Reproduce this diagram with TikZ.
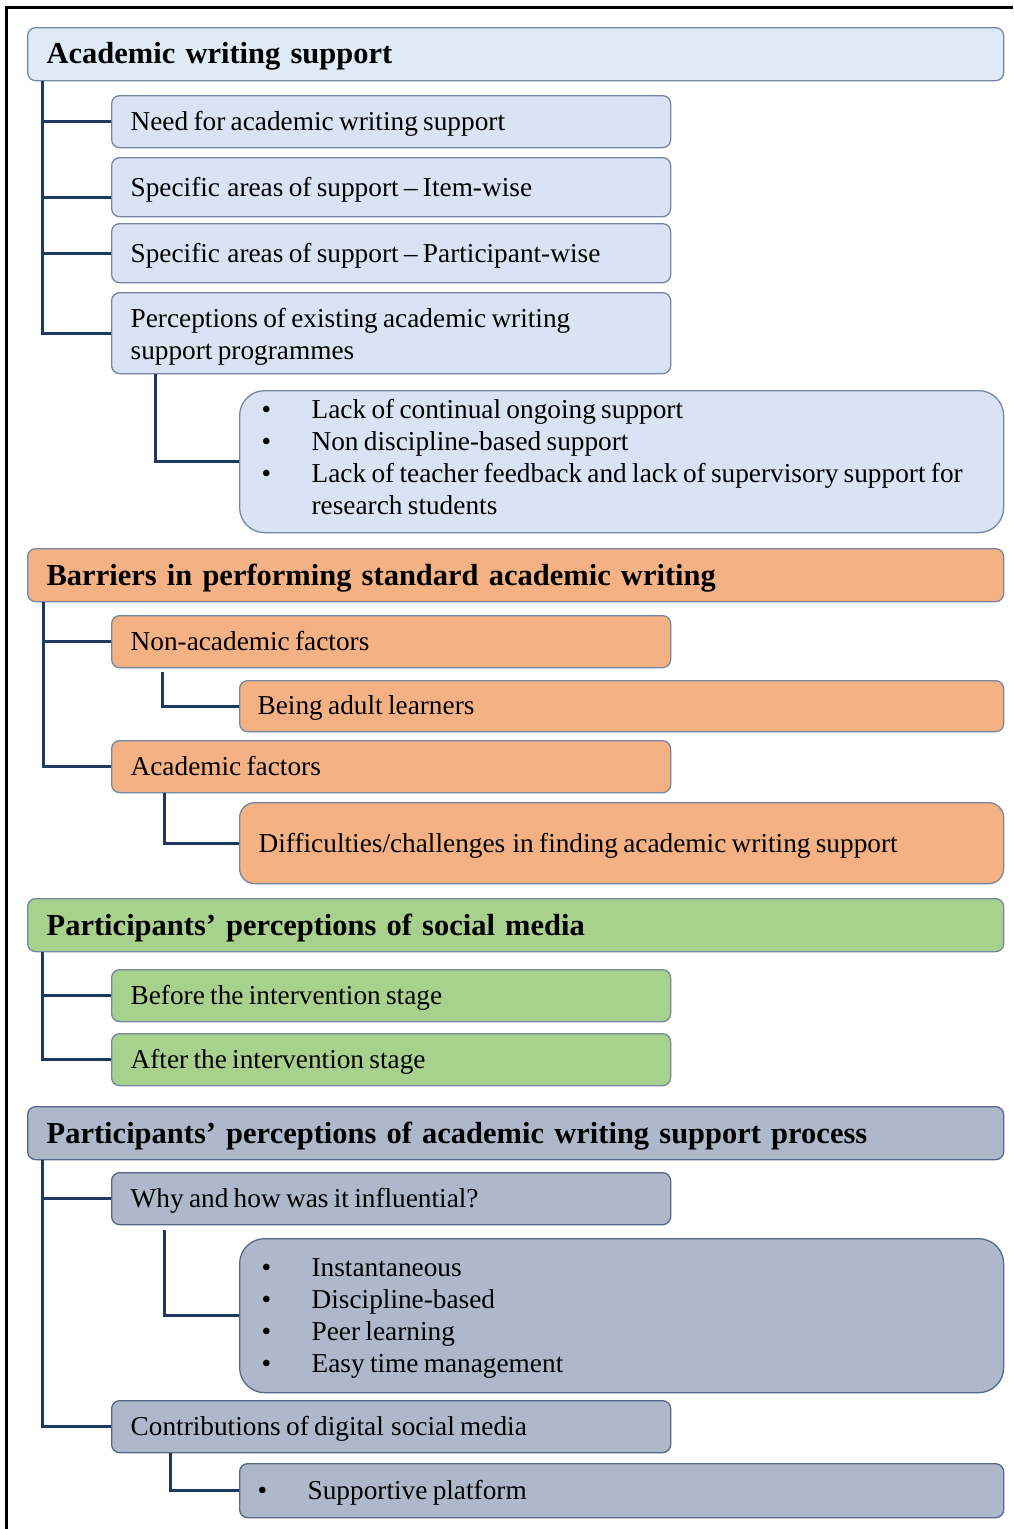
\documentclass[tikz,border=0pt]{standalone}
\usepackage{fontspec}
\setmainfont{Liberation Serif}
\definecolor{blueH}{HTML}{DEEBF7}
\definecolor{blueC}{HTML}{DAE3F3}
\definecolor{orangeF}{HTML}{F4B183}
\definecolor{greenF}{HTML}{A9D18E}
\definecolor{grayF}{HTML}{ADB9CA}
\definecolor{boxline}{HTML}{7586A3}
\definecolor{grayline}{HTML}{56688A}
\definecolor{connline}{HTML}{1F3864}
\newcommand{\bul}{\makebox[50pt][l]{\textbullet}}
\newcommand{\gap}{\hspace{2pt}}
\begin{document}
\begin{tikzpicture}[x=1pt,y=-1pt,
  base/.style={draw=boxline, line width=1.3pt, rounded corners=8pt, anchor=north west,
    inner xsep=19pt, inner ysep=0pt, align=left, text=black, text depth=1.5pt},
  body/.style={base, font=\fontsize{27.3}{32}\selectfont,
    execute at begin node={\spaceskip=5.3pt plus 2pt minus 1pt\relax}},
  multi/.style={text depth={}, text height=#1},
  hdr/.style={base, minimum width=976pt, text width=938pt, minimum height=53pt,
    font=\bfseries\fontsize{30.5}{36}\selectfont},
  child/.style={body, minimum width=559pt, text width=521pt},
  wide/.style={body, minimum width=764pt},
  conn/.style={draw=connline, line width=3pt}]

\useasboundingbox (0,0) rectangle (1013,1529);
% page frame
\draw[line width=3pt, black] (6.5,1529) -- (6.5,7.5) -- (1013,7.5);

% ---- Academic writing support ----
\node[hdr, fill=blueH] (h1) at (27,27) {Academic writing support};
\node[child, fill=blueC, minimum height=52pt] (a1) at (111,95) {Need for academic writing support};
\node[child, fill=blueC, minimum height=59pt] (a2) at (111,157) {Specific\gap{} areas of support -- Item-wise};
\node[child, fill=blueC, minimum height=59pt] (a3) at (111,223) {Specific\gap{} areas of support -- Participant-wise};
\node[child, multi=26.6pt, fill=blueC, minimum height=81pt] (a4) at (111,292) {Perceptions of existing academic writing\\support programmes};
\node[wide, multi=10.6pt, fill=blueC, rounded corners=25pt, inner xsep=22pt, text width=720pt, minimum height=142pt] (a5) at (239,390)
  {\bul Lack of continual ongoing support\\
   \bul Non discipline-based support\\
   \bul Lack of teacher feedback and lack of supervisory support for\\
   \hspace*{50pt}research students};

\draw[conn] ([xshift=15pt]h1.south west) |- (a1.west);
\draw[conn] ([xshift=15pt]h1.south west) |- ([yshift=-10.5pt]a2.west);
\draw[conn] ([xshift=15pt]h1.south west) |- (a3.west);
\draw[conn] ([xshift=15pt]h1.south west) |- (a4.west);
\draw[conn] ([xshift=44pt]a4.south west) |- (a5.west);

% ---- Barriers ----
\node[hdr, fill=orangeF] (h2) at (27,548) {Barriers in performing standard academic writing};
\node[child, fill=orangeF, minimum height=52pt] (b1) at (111,615) {Non-academic factors};
\node[wide, fill=orangeF, inner xsep=18pt, text width=728pt, minimum height=51pt] (b2) at (239,680) {Being adult learners};
\node[child, fill=orangeF, minimum height=52pt] (b3) at (111,740) {Academic factors};
\node[wide, fill=orangeF, rounded corners=15pt, text width=726pt, minimum height=81pt] (b4) at (239,802)
  {Difficulties/challenges\gap{} in finding academic writing support};

\draw[conn] ([xshift=16pt]h2.south west) |- (b1.west);
\draw[conn] ([xshift=16pt]h2.south west) |- (b3.west);
\draw[conn] ([xshift=51pt,yshift=-4pt]b1.south west) |- (b2.west);
\draw[conn] ([xshift=53pt]b3.south west) |- (b4.west);

% ---- Social media ----
\node[hdr, fill=greenF] (h3) at (27,898) {Participants’ perceptions of social media};
\node[child, fill=greenF, minimum height=52pt] (c1) at (111,969) {Before the intervention stage};
\node[child, fill=greenF, minimum height=52pt] (c2) at (111,1033) {After the intervention stage};

\draw[conn] ([xshift=15pt]h3.south west) |- (c1.west);
\draw[conn] ([xshift=15pt]h3.south west) |- (c2.west);

% ---- Support process ----
\begin{scope}[base/.append style={draw=grayline}]
\node[hdr, fill=grayF] (h4) at (27,1106) {Participants’ perceptions of academic writing support process};
\node[child, fill=grayF, minimum height=52pt] (d1) at (111,1172) {Why and how was it influential?};
\node[wide, multi=24pt, fill=grayF, rounded corners=25pt, inner xsep=22pt, text width=720pt, minimum height=154pt] (d2) at (239,1238)
  {\bul Instantaneous\\
   \bul Discipline-based\\
   \bul Peer learning\\
   \bul Easy time management};
\node[child, fill=grayF, minimum height=52pt] (d3) at (111,1400) {Contributions of digital\gap{} social media};
\node[wide, fill=grayF, inner xsep=18pt, text width=728pt, minimum height=54pt] (d4) at (239,1463)
  {\bul Supportive platform};
\end{scope}

\draw[conn] ([xshift=15pt]h4.south west) |- (d1.west);
\draw[conn] ([xshift=15pt]h4.south west) |- (d3.west);
\draw[conn] ([xshift=53pt,yshift=-5pt]d1.south west) |- (d2.west);
\draw[conn] ([xshift=59pt]d3.south west) |- (d4.west);

\end{tikzpicture}
\end{document}
